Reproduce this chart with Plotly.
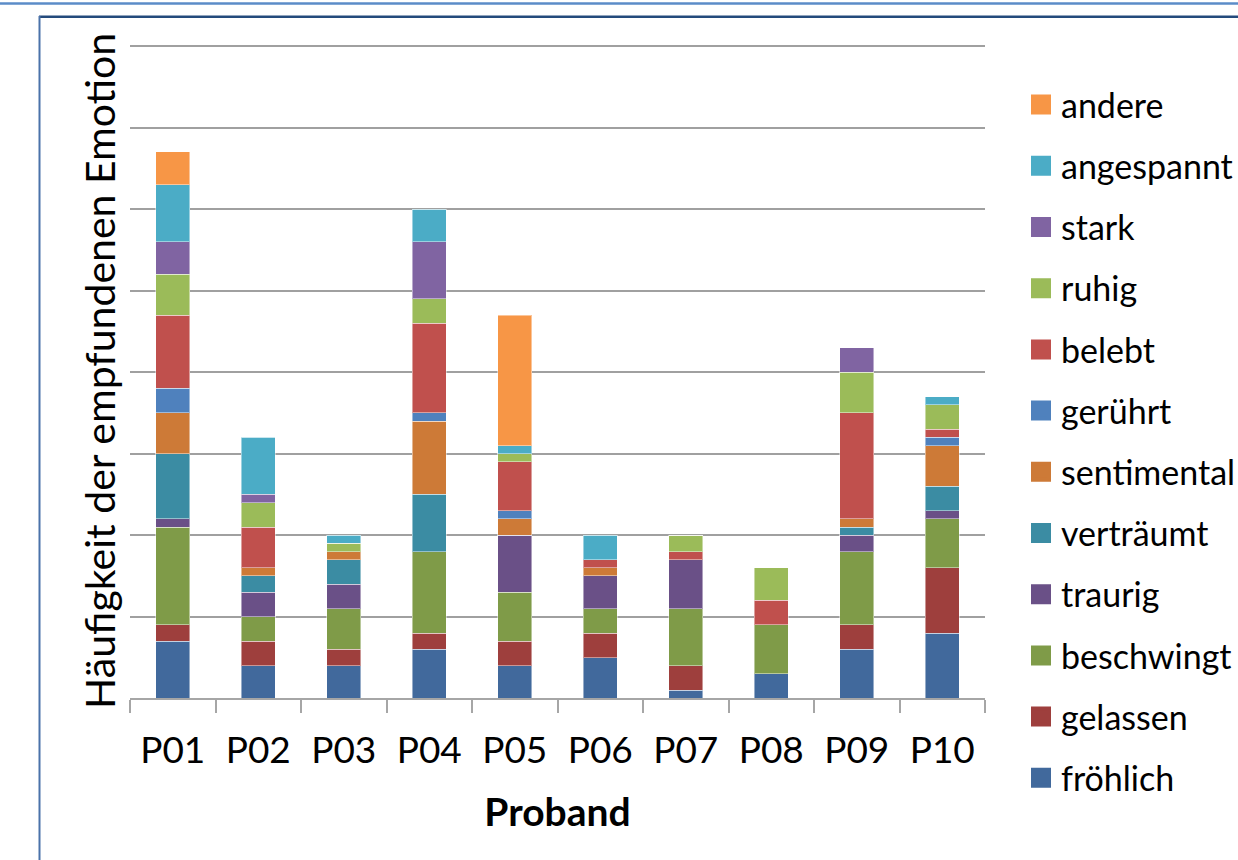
import plotly.graph_objects as go

# ---- data ----
probanden = ["P01", "P02", "P03", "P04", "P05", "P06", "P07", "P08", "P09", "P10"]
emotionen = ["fröhlich", "gelassen", "beschwingt", "traurig", "verträumt", "sentimental",
             "gerührt", "belebt", "ruhig", "stark", "angespannt", "andere"]

froehlich   = [7, 4, 4, 6, 4, 5, 1, 3, 6, 8]
gelassen    = [2, 3, 2, 2, 3, 3, 3, 0, 3, 8]
beschwingt  = [12, 3, 5, 10, 6, 3, 7, 6, 9, 6]
traurig     = [1, 3, 3, 0, 7, 4, 6, 0, 2, 1]
vertraeumt  = [8, 2, 3, 7, 0, 0, 0, 0, 1, 3]
sentimental = [5, 1, 1, 9, 2, 1, 0, 0, 1, 5]
geruehrt    = [3, 0, 0, 1, 1, 0, 0, 0, 0, 1]
belebt      = [9, 5, 0, 11, 6, 1, 1, 3, 13, 1]
ruhig       = [5, 3, 1, 3, 1, 0, 2, 4, 5, 3]
stark       = [4, 1, 0, 7, 0, 0, 0, 0, 3, 0]
angespannt  = [7, 7, 1, 4, 1, 3, 0, 0, 0, 1]
andere      = [4, 0, 0, 0, 16, 0, 0, 0, 0, 0]

werte = [froehlich, gelassen, beschwingt, traurig, vertraeumt, sentimental,
         geruehrt, belebt, ruhig, stark, angespannt, andere]

farben = ["#41699c", "#9e3f3d", "#7f9b48", "#6a5087", "#3b8ca3", "#cd7a37",
          "#4f81bd", "#c0504d", "#9bbb59", "#8064a2", "#4bacc6", "#f79646"]

FONT = "Lato"
W, H = 1238, 860
ML, MR, MT, MB = 130, 253, 10, 10
PW, PH = W - ML - MR, H - MT - MB

Y_TOP_PX, Y_BOT_PX = 46.0, 698.3   # pixel rows of value 80 and value 0
YMAX = 80.3


def px_x(px):
    return (px - ML) / PW


def px_y(py):
    return (H - MB - py) / PH


fig = go.Figure()
# legend swatches first (reversed order so "andere" is on top)
for name, col in reversed(list(zip(emotionen, farben))):
    fig.add_trace(go.Scatter(
        x=[None], y=[None], mode="markers", name=name, legendgroup=name,
        marker=dict(symbol="square", size=16, color=col, line=dict(color=col, width=4)),
        hoverinfo="skip",
    ))
for name, vals, col in zip(emotionen, werte, farben):
    fig.add_trace(go.Bar(
        x=probanden, y=vals, name=name, legendgroup=name, showlegend=False,
        marker=dict(color=col, line=dict(color="rgba(255,255,255,0.45)", width=1)),
        width=0.4,
    ))

shapes = [
    # top light-blue line
    dict(type="line", xref="paper", yref="paper", x0=px_x(0), x1=px_x(W),
         y0=px_y(3.5), y1=px_y(3.5), line=dict(color="#5b8cc8", width=2.5)),
    # dark frame top
    dict(type="line", xref="paper", yref="paper", x0=px_x(39), x1=px_x(W),
         y0=px_y(16.8), y1=px_y(16.8), line=dict(color="#244a7c", width=2.5)),
    # frame left
    dict(type="line", xref="paper", yref="paper", x0=px_x(39.5), x1=px_x(39.5),
         y0=px_y(16), y1=px_y(H), line=dict(color="#4a72aa", width=2)),
]

y_dom_bot = px_y(Y_BOT_PX)
y_dom_top = px_y(Y_BOT_PX - (Y_BOT_PX - Y_TOP_PX) * YMAX / 80.0)

fig.update_layout(
    width=W, height=H,
    margin=dict(l=ML, r=MR, t=MT, b=MB, autoexpand=False),
    paper_bgcolor="white", plot_bgcolor="white",
    barmode="stack",
    font=dict(family=FONT, color="black"),
    showlegend=True,
    legend=dict(
        x=px_x(1021), y=px_y(76), xanchor="left", yanchor="top",
        traceorder="grouped", tracegroupgap=14,
        font=dict(family=FONT, size=34, color="black"),
        bgcolor="rgba(0,0,0,0)", borderwidth=0,
    ),
    xaxis=dict(
        type="category",
        categoryorder="array", categoryarray=probanden,
        range=[-0.5, len(probanden) - 0.5],
        showline=True, linecolor="#a6a6a6", linewidth=1.5,
        ticks="outside", tickson="boundaries", ticklen=13, tickcolor="#a6a6a6", tickwidth=1.5,
        tickfont=dict(family=FONT, size=37, color="black"),
        ticklabelstandoff=19,
        showgrid=False, zeroline=False,
        title=dict(text="<b>Proband</b>", font=dict(family=FONT, size=39, color="black"), standoff=28),
    ),
    yaxis=dict(
        domain=[y_dom_bot, y_dom_top],
        range=[0, YMAX], dtick=10, showgrid=True, gridcolor="#a0a0a0", gridwidth=1.5,
        showticklabels=False, ticks="", zeroline=False, showline=False,
        title=dict(text="Häufigkeit der empfundenen Emotion",
                   font=dict(family=FONT, size=41, color="black"), standoff=0),
    ),
    shapes=shapes,
)

fig.write_html("out.html", config={"displayModeBar": False},
               post_script="document.body.style.margin='0px';document.body.style.overflow='hidden';")
